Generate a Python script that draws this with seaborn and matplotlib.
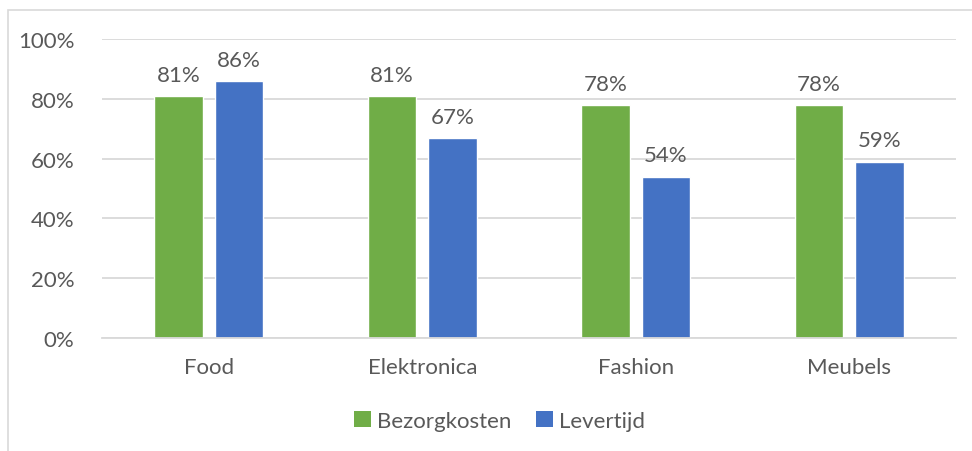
import matplotlib
matplotlib.use("Agg")
import matplotlib.pyplot as plt
import seaborn as sns
import pandas as pd
from matplotlib.patches import Patch, Rectangle
from matplotlib.ticker import PercentFormatter

categories = ["Food", "Elektronica", "Fashion", "Meubels"]
bezorgkosten = [81, 81, 78, 78]
levertijd = [86, 67, 54, 59]
series_names = ["Bezorgkosten", "Levertijd"]
colors = ["#70AD47", "#4472C4"]

df = pd.DataFrame({
    "cat": categories * 2,
    "val": bezorgkosten + levertijd,
    "series": [series_names[0]] * 4 + [series_names[1]] * 4,
})

sns.set_theme(style="white")
plt.rcParams["font.family"] = ["Lato", "DejaVu Sans"]
txt = "#595959"
fs = 16

fig = plt.figure(figsize=(9.72, 4.52), dpi=100)
ax = fig.add_axes([102/972, 1-339/452, (956-102)/972, (339-40)/452])

sns.barplot(data=df, x="cat", y="val", hue="series", palette=colors,
            width=0.567, gap=0.2, ax=ax, legend=False, saturation=1)

ax.set_ylim(0, 100)
ax.set_xlim(-0.5, 3.5)
ax.set_yticks([0, 20, 40, 60, 80, 100])
ax.yaxis.set_major_formatter(PercentFormatter(decimals=0))
ax.grid(axis="y", color="#D9D9D9", linewidth=1.3)
ax.set_axisbelow(True)
for s in ["top", "right", "left"]:
    ax.spines[s].set_visible(False)
ax.spines["bottom"].set_color("#D9D9D9")
ax.spines["bottom"].set_linewidth(1.3)
ax.set_xlabel("")
ax.set_ylabel("")
ax.tick_params(axis="y", labelsize=fs, colors=txt, length=0, pad=20)
ax.tick_params(axis="x", labelsize=fs, colors=txt, length=0, pad=14)

for cont in ax.containers:
    ax.bar_label(cont, fmt="%.0f%%", padding=8, fontsize=fs, color=txt)

handles = [Patch(facecolor=c, edgecolor="none") for c in colors]
fig.legend(handles, series_names, loc="center", bbox_to_anchor=(0.514, 1-422/452),
           ncol=2, frameon=False, fontsize=fs, labelcolor=txt,
           handlelength=0.75, handleheight=0.75, handletextpad=0.3, columnspacing=1.1)

fig.patches.append(Rectangle((8/972, -0.1), 1.2, 1 - 11/452 + 0.1, transform=fig.transFigure,
                             fill=False, edgecolor="#D9D9D9", linewidth=1.2))

fig.savefig("out.png", dpi=100)
